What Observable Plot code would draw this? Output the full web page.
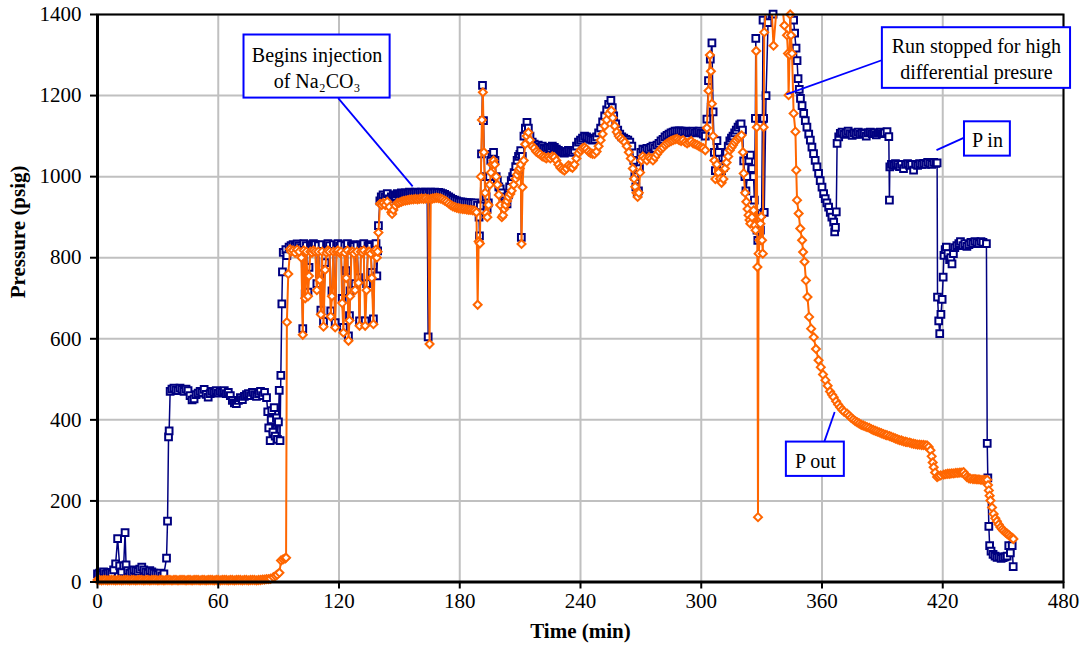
<!DOCTYPE html>
<html><head><meta charset="utf-8">
<script src="https://cdn.jsdelivr.net/npm/d3@7"></script>
<script src="https://cdn.jsdelivr.net/npm/@observablehq/plot@0.6"></script>
<style>
body{margin:0;background:#fff}
#chart svg text { font-family: "Liberation Serif", "Times New Roman", serif !important; }
</style>
</head><body><div id="chart"></div>
<script>
const xTicks = [0,60,120,180,240,300,360,420,480];
const yTicks = [0,200,400,600,800,1000,1200,1400];

// P in readings: [time (min), pressure (psig)]
const pInReadings = [
[0,20],[1,22],[2,18],[3,25],[4,20],[5,22],[6,24],[7,20],[8,30],[9,45],[10,107],[11,40],[12,25],[13,40],[13.7,122],[14.2,42],[15,28],[16,22],[17,25],[18,30],[19,28],[20,26],[21,32],[22,37],[23,30],[24,25],[25,22],[26,28],[27,25],[28,22],[29,20],[30,18],[31,22],[32,15],[33,20],
[34.3,59],[34.8,150],[35.3,358],[35.6,373],[36.1,470],
[37,476],[38,478],[39,474],[40,472],[41,478],[42,475],[43,470],[44,476],[45,472],[46,460],[47,449],[48,452],[49,462],[50,466],[51,470],[52,468],[53,475],[54,463],[55,456],[56,465],[57,470],[58,468],[59,472],[60,466],[61,470],[62,468],[63,472],[64,465],[65,468],[66,460],[67,448],[68,442],[69,440],[70,448],[71,455],[72,450],[73,458],[74,462],[75,465],[76,460],[77,468],[78,462],[79,458],[80,465],[81,470],[82,460],[83,468],
[84,455],[84.6,420],[85.1,380],[85.8,349],[86.3,400],[86.6,423],[87.2,370],[87.8,430],[88.3,360],[88.9,405],[89.4,352],[89.9,395],[90.3,473],[90.7,349],[91.1,510],[91.6,686],[91.9,765],[92.3,813],
[93.6,820],[94.1,805],[95.2,826],[96.2,830],[97.2,832],[98.2,828],[99.2,834],[100.2,830],[101.3,825],[102.0,625],[102.5,835],[103.2,711],[103.8,830],[104.6,715],[105.1,776],[105.8,832],[106.6,830],[107.3,835],[108.2,832],[109.0,736],[109.7,830],[110.4,760],[111.0,671],[111.6,832],[112.3,643],[113.1,788],[113.8,830],[114.5,835],[115.3,830],[115.9,669],[116.5,718],[117.2,832],[118.1,640],[118.8,830],[119.5,835],[120.3,828],[121.0,832],[121.6,700],[122.2,628],[122.9,830],[123.6,768],[124.2,835],[124.7,607],[125.2,657],[125.5,718],[126.2,830],[126.9,832],[127.5,828],[128.0,736],[128.9,830],[129.7,751],[130.2,644],[130.9,832],[131.7,830],[132.3,835],[133.0,644],[133.7,736],[134.4,830],[135.1,832],[135.8,828],[136.3,764],[137.1,649],[137.8,830],[138.4,835],[138.8,755],[139.2,817],[139.6,879],[140.3,940],[141.0,950],
[141.9,955],[143,950],[144,958],[145,945],[146,950],[147,955],[148,952],[149,958],[150,956],[151,960],[152,958],[153,960],[154,958],[155,962],[156,960],[157,960],[158,962],[159,960],[160,961],[161,962],[162,960],[163,962],[163.8,960],[164.3,605],[164.8,960],[165.5,962],[166.5,960],[167.5,962],[168.5,960],[169.5,961],[170.5,960],[171.5,958],[172.5,956],[173.5,953],[174.5,950],[175.5,947],[176.5,944],[177.5,942],[178.5,940],[179.5,938],[180.5,938],[181.5,937],[182.5,936],[183.5,936],[184.5,935],[185.5,935],[186.5,934],[187.5,935],
[188.8,930],[189.6,900],[189.8,854],[190.2,928],[190.8,1056],[191.3,1225],[191.8,1138],[192.4,1000],[193.1,950],[193.6,920],[194.2,935],[194.8,1000],[195.4,1040],[196.0,1055],[196.8,1060],[197.5,1040],[198.1,1000],[198.7,990],[199.4,975],[200.1,970],[200.7,960],[201.5,950],[202.1,940],[202.8,935],[203.5,933],[204.2,955],[204.8,975],[205.6,990],[206.3,1000],[207.0,1010],[207.8,1025],[208.5,1040],[209.2,1050],[209.9,1055],[210.3,1064],[210.6,850],[211.1,1050],[211.9,1100],[212.6,1120],[213.4,1134],[214.1,1120],[214.9,1100],
[216,1085],[217,1080],[218,1075],[219,1078],[220,1072],[221,1075],[222,1070],[223,1068],[224,1072],[225,1070],[226,1075],[227,1072],[228,1068],[229,1065],[230,1062],[231,1060],[232,1058],[233,1062],[234,1065],[235,1062],[236,1060],[237,1065],[238,1075],[239,1085],[240,1090],[241,1095],[242,1100],[243,1098],[244,1095],[245,1092],[246,1090],[247,1092],[248,1098],[249,1108],[250,1120],[251,1135],[252,1150],[253,1165],[254,1178],[255.1,1188],[255.8,1170],[256.5,1150],[257.5,1130],[258.5,1115],[259.5,1105],[260.5,1098],[261.5,1095],[262.5,1092],[263.5,1090],[264.5,1085],[265.5,1075],[266.5,1040],[267,1000],[267.5,975],[268.2,960],[268.8,965],[269.3,1020],[270,1060],[271,1068],[272,1065],[273,1070],[274,1068],[275,1072],[276,1075],[277,1070],[278,1078],[279,1082],[280,1088],[281,1092],[282,1098],[283,1102],[284,1105],[285,1108],[286,1110],[287,1112],[288,1112],[289,1113],[290,1112],[291,1110],[292,1112],[293,1110],[294,1108],[295,1110],[296,1112],[297,1108],[298,1110],[299,1112],[300,1108],[301,1105],[302,1100],
[302.8,1142],[303.6,1237],[304.5,1290],[305.3,1330],[305.9,1160],[306.5,1060],[307.0,1015],[307.8,1089],[308.6,1060],[309.3,1030],[310.1,1015],[311.0,1022],[311.8,1045],[312.6,1060],[313.4,1075],[314.2,1088],[315.0,1095],[315.8,1100],[316.6,1108],[317.4,1115],[318.3,1122],[319.1,1128],[319.8,1130],[320.5,1115],[321.1,1039],[321.7,1000],[322.2,965],[322.9,1000],[323.6,1040],[324.4,1053],[325.2,1020],[326.0,1000],[326.4,942],[326.9,1144],[327.1,1341],[327.4,893],[327.7,868],[328.1,843],[328.8,870],[329.4,868],[330.0,909],[330.4,1144],[330.7,1386],[331.0,1144],[331.3,912],[332.2,1200],[333.2,1380],[334.2,1420],[335.7,1401],[337,1450],[339,1500],[341,1500],[343,1460],[344.8,1420],
[345.9,1386],[346.4,1354],[347.1,1317],[347.6,1286],[348.1,1242],[348.7,1215],[349.3,1193],[350.1,1175],[350.9,1156],[351.7,1138],[352.5,1122],[353.4,1105],[354.2,1090],[355.0,1073],[355.8,1057],[356.6,1040],[357.5,1024],[358.3,1008],[359.1,990],[360.0,974],[360.8,958],[361.6,946],[362.4,935],[363.3,925],[364.1,912],[364.9,900],[365.8,888],[366.3,864],[366.7,875],[367.1,913],[367.5,1082],[368.3,1098],[369.1,1107],
[370,1110],[371,1104],[372,1108],[373,1112],[374,1106],[375,1102],[376,1108],[377,1105],[378,1110],[379,1104],[380,1108],[381,1106],[382,1100],[383,1108],[384,1110],[385,1106],[386,1108],[387,1103],[388,1108],[389,1110],[390,1106],[391,1108],[392.3,1111],[393.2,1099],[393.5,942],[393.7,1024],
[394.5,1030],[395.5,1028],[396.5,1032],[397.5,1030],[398.5,1025],[399.5,1030],[400.5,1020],[401.5,1030],[402.5,1032],[403.5,1028],[404.5,1030],[405.5,1016],[406.5,1030],[407.5,1028],[408.5,1032],[409.5,1030],[410.5,1033],[411.5,1030],[412.5,1035],[413.5,1033],[414.5,1030],[415.5,1035],[416.5,1033],[417.2,1034],
[417.4,703],[418.0,644],[418.5,613],[419.1,660],[419.7,697],[420.2,752],[420.6,806],[421.2,820],[421.8,826],[422.6,810],[423.4,795],[424.0,800],[424.6,785],[425.3,810],[426.0,825],[427,830],[428,835],[428.8,840],[430,830],[431,835],[432,828],[433,832],[434,838],[435,835],[436,840],[437,838],[438,835],[439,840],[440,838],[441.7,835],
[442.1,342],[442.4,257],[442.9,137],[443.3,90],[444,76],[445,68],[446,64],[447,61],[448,62],[449,58],[450,60],[451,62],[452,64],[452.8,90],[453.6,72],[454.5,90],[455.0,38]
];

// P out readings: [time (min), pressure (psig)]
const pOutReadings = [
[0,5],[1,5],[2,4],[3,5],[4,5],[5,4],[6,5],[7,5],[8,5],[9,4],[10,5],[11,5],[12,4],[13,5],[14,5],[15,5],[16,4],[17,5],[18,5],[19,4],[20,5],[21,5],[22,5],[23,4],[24,5],[25,5],[26,4],[27,5],[28,5],[29,5],[30,4],[31,5],[32,5],[33,4],[34,5],[35,5],[36,5],[37,4],[38,5],[39,5],[40,4],[41,5],[42,5],[43,5],[44,4],[45,5],[46,5],[47,4],[48,5],[49,5],[50,5],[51,4],[52,5],[53,5],[54,4],[55,5],[56,5],[57,5],[58,4],[59,5],[60,5],[61,4],[62,5],[63,5],[64,5],[65,4],[66,5],[67,5],[68,4],[69,5],[70,5],[71,5],[72,4],[73,5],[74,5],[75,4],[76,5],[77,5],[78,5],[79,4],[80,5],[81,5],[82,6],[83,6],[84,7],[85,7],[86,8],
[87.4,12],[88.5,15],[89.3,18],[90.4,23],[91.2,53],[92.2,56],[93.2,58],[93.7,60],[94.1,641],[94.8,760],[95.7,821],
[96.2,815],[97.2,818],[98.2,812],[99.2,820],[100.2,815],[101.3,800],[102.0,610],[102.5,818],[103.2,700],[103.8,815],[104.6,705],[105.1,755],[105.8,815],[106.6,812],[107.3,818],[108.2,815],[109.0,720],[109.7,815],[110.4,745],[111.0,660],[111.6,815],[112.3,630],[113.1,770],[113.8,812],[114.5,818],[115.3,815],[115.9,655],[116.5,705],[117.2,815],[118.1,628],[118.8,815],[119.5,818],[120.3,812],[121.0,815],[121.6,688],[122.2,615],[122.9,812],[123.6,750],[124.2,818],[124.7,595],[125.2,645],[125.5,705],[126.2,815],[126.9,815],[127.5,810],[128.0,720],[128.9,815],[129.7,738],[130.2,632],[130.9,815],[131.7,812],[132.3,818],[133.0,632],[133.7,720],[134.4,815],[135.1,815],[135.8,810],[136.3,750],[137.1,636],[137.8,815],[138.4,820],[138.8,800],[139.2,815],[139.6,862],[140.4,933],[141.2,930],
[142,935],[143,930],[144,938],[145,925],[146,912],[146.4,908],[147,918],[148,928],[149,935],[150,936],[151,938],[152,940],[153,941],[154,942],[155,943],[156,944],[157,944],[158,945],[159,944],[160,945],[161,946],[162,945],[163,946],[164.3,945],[165,587],[165.6,945],[166.5,946],[167.5,947],[168.5,948],[169.5,947],[170.5,946],[171.5,944],[172.5,941],[173.5,938],[174.5,934],[175.5,930],[176.5,927],[177.5,925],[178.5,923],[179.5,922],[180.5,921],[181.5,920],[182.5,920],[183.5,919],[184.5,918],[185.5,918],[186.5,917],[187.5,916],[188.3,912],
[188.9,684],[189.4,840],[190.0,835],[190.5,1000],[191.0,1140],[191.5,1208],[192.0,1060],[192.6,960],[193.2,910],[193.7,900],[194.3,930],[194.9,980],[195.5,1010],[196.1,1030],[196.8,1040],[197.4,1030],[198.1,1000],[198.7,980],[199.4,955],[200.1,930],[200.9,900],[201.5,905],[202.1,920],[202.8,930],[203.5,940],[204.2,950],[205.1,957],[205.8,965],[206.8,980],[207.8,995],[208.5,1005],[209.2,1015],[209.8,1020],[210.3,1030],[210.7,834],[211.2,974],[211.8,1040],[212.5,1080],[213.3,1100],[214.1,1109],[214.9,1090],
[216,1075],[217,1070],[218,1062],[219,1058],[220,1055],[221,1050],[222,1048],[223,1045],[224,1048],[225,1045],[226,1050],[227,1048],[228,1040],[229,1030],[230,1022],[231,1018],[232,1015],[233,1020],[234,1028],[235,1025],[236,1022],[237,1030],[238,1045],[239,1058],[240,1065],[241,1070],[242,1072],[243,1068],[244,1062],[245,1058],[246,1056],[247,1056],[248,1062],[249,1075],[250,1090],[251,1105],[252,1125],[253,1140],[254,1155],[255.3,1163],[256,1145],[257,1125],[258,1110],[259,1100],[260,1095],[261,1090],[262,1085],[263,1075],[264,1060],[265,1045],[266,1020],[266.6,995],[267.2,975],[267.8,960],[268.4,950],[269,960],[269.6,1010],[270.3,1040],[271,1050],[272,1045],[273,1040],[274,1048],[275,1045],[276,1040],[277,1048],[278,1055],[279,1062],[280,1068],[281,1072],[282,1078],[283,1082],[284,1085],[285,1088],[286,1090],[287,1092],[288,1093],[289,1090],[290,1088],[291,1090],[292,1085],[293,1082],[294,1085],[295,1088],[296,1082],[297,1080],[298,1078],[299,1075],[300,1072],[301,1070],[302,1065],
[302.8,1120],[303.6,1212],[304.3,1300],[304.8,1260],[305.3,1180],[305.9,1100],[306.5,1040],[307.0,994],[307.8,1030],[308.6,1010],[309.3,995],[310.1,985],[311.0,994],[311.8,1020],[312.6,1035],[313.4,1050],[314.2,1065],[315.0,1072],[315.8,1078],[316.6,1085],[317.4,1090],[318.3,1095],[319.1,1098],[320.0,1102],[320.7,1060],[321.1,1008],[321.8,960],[322.4,938],[323.0,920],[323.5,905],[324.0,893],[324.4,884],[325.2,900],[326.0,917],[326.6,880],[327.0,868],[327.3,1310],[327.6,1122],[327.9,777],[328.2,160],[328.5,810],[329.0,843],[329.4,884],[329.8,901],[330.2,843],[330.6,810],[331.0,1122],[331.3,1356],[332.5,1440],[334.5,1460],[335.9,1323],[337.5,1420],[339.5,1460],[341.3,1373],[342.6,1349],[343.1,1304],[343.4,1201],[343.9,1300],[344.2,1400],
[344.6,1349],[345.1,1304],[345.9,1156],[346.8,1111],[347.2,1016],[347.6,942],[348.4,909],[349.2,872],[350.1,843],[350.6,814],[351.3,790],[352.0,744],[352.8,703],[353.6,654],[354.6,625],[355.9,604],[357.0,575],[358.3,547],[359.4,530],[360.5,512],[361.7,498],[362.8,484],[364.0,470],[365.0,462],[365.8,456],[367,446],[368,438],[369,431],[370,425],[371,420],[372.5,415],[373.5,410],[374.5,405],[375.5,401],[376.5,397],[377.5,394],[378.5,391],[379.5,388],[380.5,386],[381.5,384],[382.4,382],[383.5,380],[384.5,377],[385.5,375],[386.5,373],[387.5,371],[388.5,369],[389.5,367],[390.5,365],[391.5,363],[392.3,362],[393.5,360],[394.5,358],[395.5,356],[396.5,354],[397.5,352],[398.5,350],[399.5,349],[400.5,347],[401.5,346],[402.3,345],[403.5,344],[404.5,342],[405.5,341],[406.5,340],[407.5,339],[408.5,339],[409.5,338],[410.5,338],[411.5,337],[412.2,337],[413.0,333],[413.9,325],[414.5,310],[415.0,295],[415.5,283],[416.2,270],[417.2,259],[418,261],[419,263],[420.5,265],[421.5,266],[422.5,267],[423.5,267],[424.5,268],[425.5,268],[426.5,269],[427.5,269],[428.5,270],[429.5,270],[430.4,271],[431.2,265],[432.0,259],[433,256],[433.8,255],[435,254],[436,254],[437,253],[438,253],[439,252],[440,252],[441,252],[442.1,252],[442.5,239],[442.9,226],[443.3,213],[443.7,201],[444.5,184],[445.3,168],[446.1,157],[446.9,150],[447.8,142],[448.7,135],[449.5,130],[450.3,126],[451.2,122],[452.0,119],[452.8,116],[453.6,112],[454.5,109],[455.1,106]
];

// Callout notes (box corners, text centre, leader line) in data units
const noteLabels = ["Begins injection\nof Na\u2082CO\u2083", "Run stopped for high\ndifferential presure", "P in", "P out"];
const noteBoxes = [[72.8,145.4,1193.8,1349.4],[390.0,483.5,1217.8,1367.4],[430.8,453.6,1050.6,1135.3],[342.3,371.1,260.5,345.2]];
const noteCentres = [[109.1,1271.6],[436.7,1292.6],[442.2,1092.6],[356.7,302.5]];
const noteLeaders = [[119.6,1193.8,156.6,976],[390.0,1287.7,342.3,1203],[430.4,1095.8,416.9,1065.4],[361.2,346.9,366.3,419.3]];

const inData = pInReadings.map(([t,p]) => ({t,p}));
const outData = pOutReadings.map(([t,p]) => ({t,p}));
const notes = noteLabels.map((label,i) => ({
  label,
  x1: noteBoxes[i][0], x2: noteBoxes[i][1], y1: noteBoxes[i][2], y2: noteBoxes[i][3],
  tx: noteCentres[i][0], ty: noteCentres[i][1],
  lx1: noteLeaders[i][0], ly1: noteLeaders[i][1], lx2: noteLeaders[i][2], ly2: noteLeaders[i][3]
}));

const serif = "Liberation Serif, Times New Roman, serif";
const fmt = d3.format("d");
const chart = Plot.plot({
  width: 1086, height: 649,
  marginLeft: 97, marginRight: 23, marginTop: 14, marginBottom: 67.5,
  x: {domain: [0, 480]},
  y: {domain: [0, 1400]},
  style: {fontFamily: serif, fontSize: "21px", background: "white", color: "black"},
  marks: [
    Plot.ruleX(xTicks, {stroke: "#c0c0c0", strokeWidth: 2}),
    Plot.ruleY(yTicks, {stroke: "#c0c0c0", strokeWidth: 2}),
    Plot.line(inData, {x: "t", y: "p", stroke: "#000080", strokeWidth: 1.5, clip: true}),
    Plot.dot(inData, {x: "t", y: "p", filter: d => d.p <= 1402, symbol: "square", r: 3.8, stroke: "#000080", strokeWidth: 2, fill: "white"}),
    Plot.line(outData, {x: "t", y: "p", stroke: "#FF6600", strokeWidth: 2, clip: true}),
    Plot.dot(outData, {x: "t", y: "p", filter: d => d.p <= 1402, symbol: "diamond2", r: 3.6, stroke: "#FF6600", strokeWidth: 2, fill: "white"}),
    Plot.frame({stroke: "black", strokeWidth: 2}),
    Plot.ruleX([0], {stroke: "black", strokeWidth: 3}),
    Plot.ruleY([0], {stroke: "black", strokeWidth: 3}),
    Plot.axisY({ticks: yTicks, tickSize: 7, tickPadding: 9, tickFormat: fmt, label: null, fontSize: 21, strokeWidth: 2}),
    Plot.axisX({ticks: xTicks, tickSize: 7, tickPadding: 4, tickFormat: fmt, label: null, fontSize: 21, strokeWidth: 2}),
    Plot.text(["Pressure (psig)"], {text: d => d, frameAnchor: "left", dx: -79, rotate: -90, fontWeight: "bold", fontSize: 21}),
    Plot.text(["Time (min)"], {text: d => d, frameAnchor: "bottom", dy: 56, fontWeight: "bold", fontSize: 21}),
    Plot.link(notes, {x1: "lx1", y1: "ly1", x2: "lx2", y2: "ly2", stroke: "#0000FF", strokeWidth: 1.8}),
    Plot.rect(notes, {x1: "x1", x2: "x2", y1: "y1", y2: "y2", fill: "white", stroke: "#0000FF", strokeWidth: 2}),
    Plot.text(notes, {x: "tx", y: "ty", text: "label", fontSize: 20, lineHeight: 1.3, fill: "black"})
  ]
});
chart.setAttribute("font-family", serif);
chart.querySelectorAll("text").forEach(t => { t.style.fontFamily = serif; });
document.getElementById("chart").appendChild(chart);
</script>
</body></html>
